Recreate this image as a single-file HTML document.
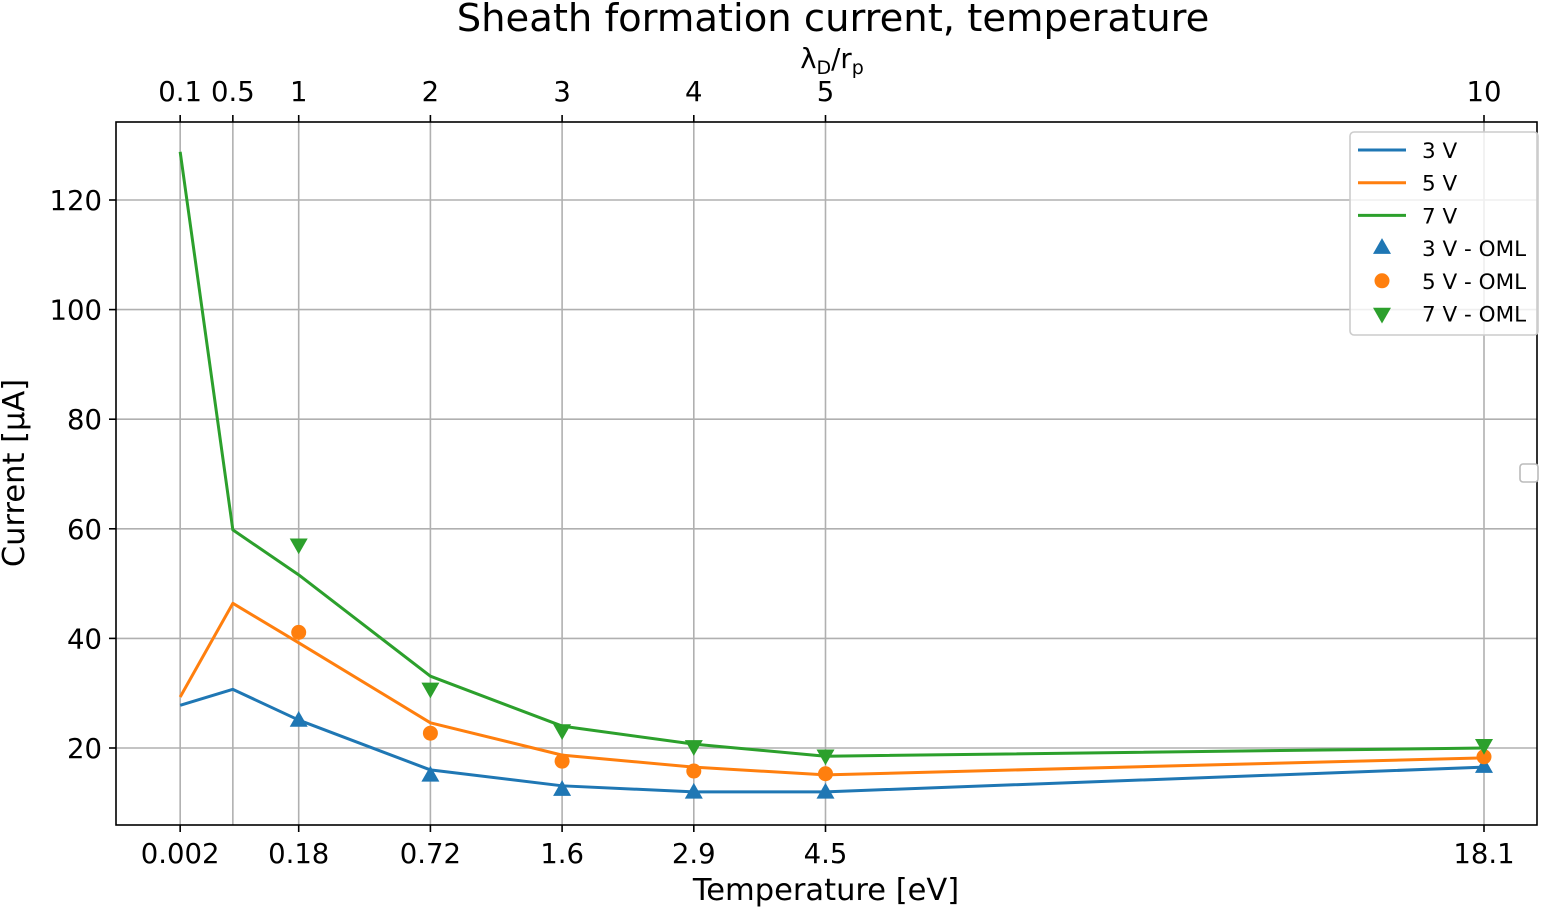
<!DOCTYPE html>
<html><head><meta charset="utf-8"><style>
body{margin:0;background:#fff;}
svg{display:block;font-family:"DejaVu Sans","Liberation Sans",sans-serif;}
</style></head><body>
<svg id="chart" width="1551" height="908" viewBox="0 0 1551 908"></svg>
<script>
const xPos = [0.1,0.5,1,2,3,4,5,10];
const topTickLabels = ["0.1","0.5","1","2","3","4","5","10"];
const bottomTickPos = [0.1,1,2,3,4,5,10];
const bottomTickLabels = ["0.002","0.18","0.72","1.6","2.9","4.5","18.1"];
const yTicks = [20,40,60,80,100,120];
const v3 = [27.8,30.7,25.1,16.0,13.1,12.0,12.0,16.5];
const v5 = [29.3,46.4,39.2,24.6,18.7,16.5,15.1,18.2];
const v7 = [128.8,59.8,51.6,33.1,24.0,20.7,18.5,20.0];
const omlX = [1,2,3,4,5,10];
const oml3 = [25.1,15.1,12.5,12.0,12.0,16.7];
const oml5 = [41.1,22.7,17.6,15.8,15.3,18.4];
const oml7 = [57.0,30.7,23.1,20.2,18.5,20.4];

const NS="http://www.w3.org/2000/svg";
const svg=document.getElementById('chart');
const L=116,R=1537,T=122,B=825;
const sx=v=>167+v*131.7;
const sy=v=>857.6-v*5.48;
function el(tag,attrs,parent){const e=document.createElementNS(NS,tag);for(const k in attrs)e.setAttribute(k,attrs[k]);(parent||svg).appendChild(e);return e;}
function txt(s,attrs){const e=el('text',attrs);e.textContent=s;return e;}

xPos.forEach((v,i)=>{const g=el('line',{x1:sx(v),x2:sx(v),y1:T,y2:B,stroke:'#b0b0b0','stroke-width':1.6});

});
yTicks.forEach(v=>{const g=el('line',{x1:L,x2:R,y1:sy(v),y2:sy(v),stroke:'#b0b0b0','stroke-width':1.6});

});

[[v3,'#1f77b4','line-3v'],[v5,'#ff7f0e','line-5v'],[v7,'#2ca02c','line-7v']].forEach(([d,c,n])=>{
 const p=el('polyline',{points:d.map((v,i)=>sx(xPos[i])+','+sy(v)).join(' '),fill:'none',stroke:c,'stroke-width':3,'stroke-linejoin':'round'});
 
 
});
function tri(x,y,up,c){const s=9;const pts=up?`${x},${y-s} ${x-s},${y+s*0.75} ${x+s},${y+s*0.75}`:`${x},${y+s} ${x-s},${y-s*0.75} ${x+s},${y-s*0.75}`;return el('polygon',{points:pts,fill:c});}
oml3.forEach((v,i)=>{const m=tri(sx(omlX[i]),sy(v),true,'#1f77b4');

});
oml5.forEach((v,i)=>{const m=el('circle',{cx:sx(omlX[i]),cy:sy(v),r:7.5,fill:'#ff7f0e'});

});
oml7.forEach((v,i)=>{const m=tri(sx(omlX[i]),sy(v),false,'#2ca02c');

});

const fr=el('rect',{x:L,y:T,width:R-L,height:B-T,fill:'none',stroke:'#000','stroke-width':1.6});



xPos.forEach((v,i)=>{el('line',{x1:sx(v),x2:sx(v),y1:T,y2:T-7,stroke:'#000','stroke-width':1.6});
 const t=txt(topTickLabels[i],{x:sx(v),y:T-21,'font-size':27.5,'text-anchor':'middle'});
 
 });
bottomTickPos.forEach((v,i)=>{el('line',{x1:sx(v),x2:sx(v),y1:B,y2:B+7,stroke:'#000','stroke-width':1.6});
 const t=txt(bottomTickLabels[i],{x:sx(v),y:B+38,'font-size':27.5,'text-anchor':'middle'});
 
 });
yTicks.forEach(v=>{el('line',{x1:L,x2:L-7,y1:sy(v),y2:sy(v),stroke:'#000','stroke-width':1.6});
 const t=txt(String(v),{x:L-14,y:sy(v)+10,'font-size':27.5,'text-anchor':'end'});
 
 });

let t=txt('Sheath formation current, temperature',{x:833,y:31,'font-size':38.5,'text-anchor':'middle'});


t=el('text',{x:832,y:68,'font-size':27.5,'text-anchor':'middle'});
t.innerHTML='λ<tspan font-size="19" dy="6">D</tspan><tspan dy="-6">/r</tspan><tspan font-size="19" dy="6">p</tspan>';


t=txt('Temperature [eV]',{x:826,y:900,'font-size':30.5,'text-anchor':'middle'});


t=txt('Current [µA]',{x:0,y:0,'font-size':30.5,'text-anchor':'middle',transform:'translate(24,473) rotate(-90)'});



const lg=el('rect',{x:1350,y:132,width:188,height:203,rx:4,fill:'#fff','fill-opacity':0.8,stroke:'#ccc','stroke-width':1.6});


const labels=['3 V','5 V','7 V','3 V - OML','5 V - OML','7 V - OML'];
const lc=['#1f77b4','#ff7f0e','#2ca02c','#1f77b4','#ff7f0e','#2ca02c'];
labels.forEach((s,i)=>{const y=150+i*32.7;
 if(i<3){el('line',{x1:1358,x2:1406,y1:y,y2:y,stroke:lc[i],'stroke-width':3});}
 else if(i==3){tri(1382,y-1,true,lc[i]);}
 else if(i==4){el('circle',{cx:1382,cy:y,r:7.5,fill:lc[i]});}
 else tri(1382,y+1,false,lc[i]);
 const e=txt(s,{x:1422,y:y+8,'font-size':21.5});
 
 
});
const eb=el('rect',{x:1520,y:464,width:18,height:18,rx:3,fill:'#fff',stroke:'#bbb','stroke-width':1.6});


</script>
</body></html>
